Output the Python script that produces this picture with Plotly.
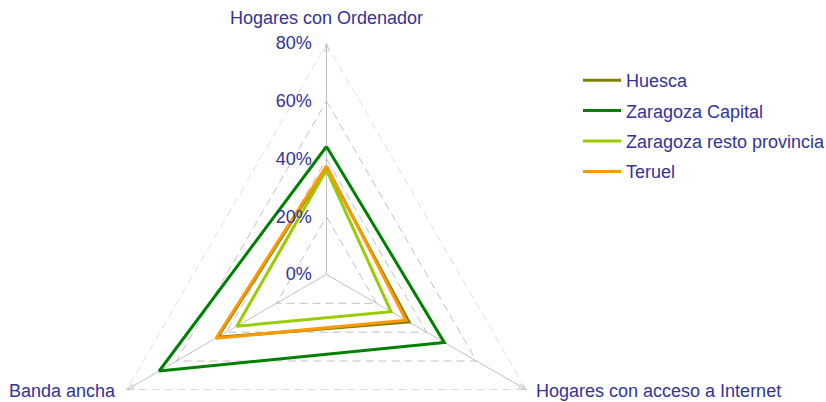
import plotly.graph_objects as go

categories = ["Hogares con Ordenador", "Hogares con acceso a Internet", "Banda ancha"]
series_names = ["Huesca", "Zaragoza Capital", "Zaragoza resto provincia", "Teruel"]
huesca = [37.0, 33.0, 43.6]
zaragoza_capital = [44.3, 47.1, 66.9]
zaragoza_resto = [36.2, 25.8, 35.9]
teruel = [37.6, 31.8, 44.2]
tick_values = [0, 20, 40, 60, 80]
tick_labels = ["0%", "20%", "40%", "60%", "80%"]

colors = ["#808000", "#008000", "#99cc00", "#ff9900"]
series_values = [huesca, zaragoza_capital, zaragoza_resto, teruel]
TXT = "#333399"
GRID = "#c0c0c0"
FONT = "Liberation Sans, Arial, sans-serif"

W, H = 826, 520          # figure taller than the 402px window; bottom part is blank
CX, CY, R = 326.5, 274.4, 231.0

fig = go.Figure()

# dashed grid polygons
for t in tick_values[1:]:
    fig.add_trace(go.Scatterpolar(
        r=[t] * (len(categories) + 1), theta=categories + [categories[0]],
        mode="lines", line=dict(color=GRID, width=1, dash="8px,5px"),
        showlegend=False, hoverinfo="skip"))
# spokes with arrow heads
for c in categories:
    fig.add_trace(go.Scatterpolar(
        r=[tick_values[0], tick_values[-1]], theta=[c, c],
        mode="lines+markers", line=dict(color=GRID, width=1),
        marker=dict(symbol="arrow-open", size=[0, 8], angleref="previous",
                    color=GRID, line=dict(color=GRID, width=1)),
        showlegend=False, hoverinfo="skip"))

for i, (name, vals) in enumerate(zip(series_names, series_values)):
    fig.add_trace(go.Scatterpolar(
        r=vals + [vals[0]], theta=categories + [categories[0]],
        mode="lines", name=name, legendgroup=name,
        line=dict(color=colors[i], width=3)))

def px(x, y):
    return dict(x=x / W, y=1 - y / H, xref="paper", yref="paper")

annotations = [
    dict(text=categories[0], xanchor="center", yanchor="middle", showarrow=False, **px(326, 18)),
    dict(text=categories[1], xanchor="left", yanchor="middle", showarrow=False, **px(534, 391)),
    dict(text=categories[2], xanchor="right", yanchor="middle", showarrow=False, **px(118, 391)),
]

fig.update_layout(
    width=W, height=H,
    margin=dict(l=0, r=0, t=0, b=0, autoexpand=False),
    paper_bgcolor="white", plot_bgcolor="white",
    font=dict(family=FONT, size=18, color=TXT),
    annotations=annotations,
    polar=dict(
        domain=dict(x=[(CX - R) / W, (CX + R) / W],
                    y=[(H - CY - R) / H, (H - CY + R) / H]),
        gridshape="linear",
        bgcolor="rgba(0,0,0,0)",
        angularaxis=dict(type="category", categoryarray=categories,
                         rotation=90, direction="clockwise",
                         showgrid=False, showline=False, showticklabels=False,
                         ticks=""),
        radialaxis=dict(range=[0, 80], angle=90, side="counterclockwise",
                        tickangle=90,
                        tickvals=tick_values, ticktext=tick_labels,
                        showgrid=False, showline=False,
                        ticks="outside", ticklen=8, tickcolor="rgba(0,0,0,0)",
                        tickfont=dict(size=18, color=TXT, family=FONT)),
    ),
    legend=dict(x=578 / W, y=1 - 62 / H, xanchor="left", yanchor="top",
                traceorder="grouped", tracegroupgap=4, itemwidth=38,
                font=dict(size=18, color=TXT, family=FONT),
                bgcolor="rgba(0,0,0,0)"),
)

fig.write_html("out.html", config={"displayModeBar": False},
               post_script="document.body.style.overflow='hidden';document.body.style.margin='0';")
